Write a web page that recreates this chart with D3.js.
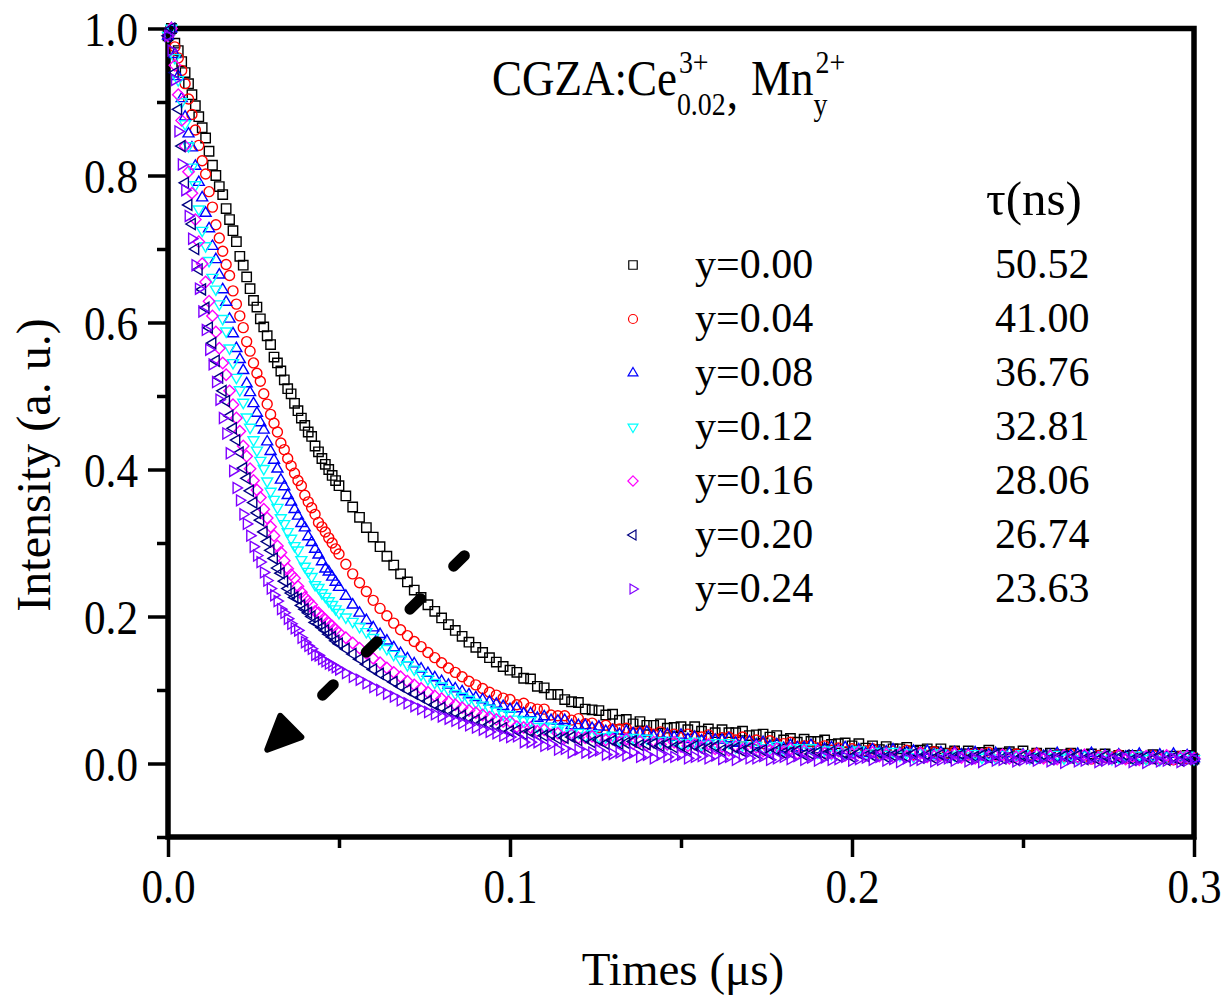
<!DOCTYPE html>
<html>
<head>
<meta charset="utf-8">
<title>CGZA decay curves</title>
<script src="https://cdn.jsdelivr.net/npm/d3@7/dist/d3.min.js"></script>
<style>
  body { margin: 0; background: #fff; }
  svg text { font-family: "Liberation Serif", Tinos, "Times New Roman", Times, "Nimbus Roman", "DejaVu Serif", serif; fill: #000; }
</style>
</head>
<body>
<svg width="1225" height="998" id="mainsvg"></svg>
<script>
// time axis (µs): 1 ns steps up to 50 ns, 2 ns steps after
const time = [
  0,0.001,0.002,0.003,0.004,0.005,0.006,0.007,0.008,0.009,
  0.010,0.011,0.012,0.013,0.014,0.015,0.016,0.017,0.018,0.019,
  0.020,0.021,0.022,0.023,0.024,0.025,0.026,0.027,0.028,0.029,
  0.030,0.031,0.032,0.033,0.034,0.035,0.036,0.037,0.038,0.039,
  0.040,0.041,0.042,0.043,0.044,0.045,0.046,0.047,0.048,0.049,
  0.050,
  0.052,0.054,0.056,0.058,0.060,0.062,0.064,0.066,0.068,0.070,
  0.072,0.074,0.076,0.078,0.080,0.082,0.084,0.086,0.088,0.090,
  0.092,0.094,0.096,0.098,0.100,0.102,0.104,0.106,0.108,0.110,
  0.112,0.114,0.116,0.118,0.120,0.122,0.124,0.126,0.128,0.130,
  0.132,0.134,0.136,0.138,0.140,0.142,0.144,0.146,0.148,0.150,
  0.152,0.154,0.156,0.158,0.160,0.162,0.164,0.166,0.168,0.170,
  0.172,0.174,0.176,0.178,0.180,0.182,0.184,0.186,0.188,0.190,
  0.192,0.194,0.196,0.198,0.200,0.202,0.204,0.206,0.208,0.210,
  0.212,0.214,0.216,0.218,0.220,0.222,0.224,0.226,0.228,0.230,
  0.232,0.234,0.236,0.238,0.240,0.242,0.244,0.246,0.248,0.250,
  0.252,0.254,0.256,0.258,0.260,0.262,0.264,0.266,0.268,0.270,
  0.272,0.274,0.276,0.278,0.280,0.282,0.284,0.286,0.288,0.290,
  0.292,0.294,0.296,0.298,0.300
];

const y000 = [
  0.99,1.00,0.98,0.97,0.955,0.94,0.925,0.91,0.895,0.88,
  0.865,0.851,0.833,0.814,0.80,0.785,0.774,0.755,0.74,0.725,
  0.71,0.69,0.678,0.662,0.646,0.63,0.621,0.605,0.594,0.582,
  0.57,0.553,0.545,0.534,0.522,0.51,0.503,0.49,0.48,0.47,
  0.46,0.451,0.445,0.432,0.424,0.415,0.407,0.40,0.392,0.385,
  0.378,
  0.364,0.349,0.335,0.321,0.308,0.295,0.282,0.270,0.258,0.247,
  0.236,0.226,0.216,0.207,0.198,0.189,0.181,0.173,0.165,0.158,
  0.151,0.144,0.138,0.132,
  0.127,0.124,0.116,0.115,0.105,0.103,0.094,0.094,0.087,0.084,
  0.083,0.074,0.073,0.072,0.066,0.067,0.059,0.060,0.054,0.057,
  0.052,0.052,0.054,0.048,0.049,0.050,0.046,0.050,0.044,0.047,
  0.042,0.046,0.042,0.042,0.044,0.038,0.039,0.040,0.036,0.038,
  0.032,0.034,0.029,0.033,0.030,0.030,0.032,0.026,0.027,0.028,
  0.024,0.027,0.021,0.024,0.019,0.023,0.020,0.020,0.022,0.017,
  0.018,0.020,0.016,0.020,0.014,0.017,0.013,0.017,0.014,0.015,
  0.018,0.012,0.014,0.016,0.013,0.017,0.011,0.014,0.010,0.014,
  0.011,0.012,0.014,0.009,0.011,0.013,0.009,0.013,0.008,0.011,
  0.007,0.011,0.008,0.009,0.012,0.007,0.009,0.010,0.007,0.011,
  0.006
];

const y004 = [
  0.99,1.00,0.975,0.96,0.943,0.925,0.904,0.883,0.862,0.841,
  0.82,0.802,0.778,0.757,0.733,0.715,0.697,0.679,0.664,0.643,
  0.625,0.609,0.593,0.574,0.561,0.545,0.531,0.52,0.503,0.489,
  0.475,0.463,0.451,0.436,0.427,0.415,0.405,0.395,0.385,0.378,
  0.365,0.356,0.348,0.339,0.328,0.322,0.315,0.307,0.300,0.292,
  0.285,
  0.271,0.258,0.246,0.234,0.222,0.211,0.201,0.191,0.182,0.174,
  0.166,0.159,0.151,0.144,0.137,0.130,0.124,0.118,0.112,0.107,
  0.102,0.097,0.093,0.089,
  0.087,0.080,0.082,0.076,0.074,0.074,0.066,0.065,0.065,0.059,
  0.061,0.054,0.055,0.049,0.052,0.047,0.047,0.048,0.042,0.043,
  0.044,0.040,0.043,0.038,0.040,0.035,0.040,0.036,0.036,0.039,
  0.033,0.035,0.036,0.032,0.036,0.030,0.032,0.027,0.031,0.027,
  0.027,0.029,0.023,0.024,0.025,0.021,0.024,0.018,0.021,0.016,
  0.020,0.017,0.017,0.020,0.014,0.016,0.017,0.014,0.018,0.012,
  0.015,0.011,0.016,0.012,0.013,0.016,0.011,0.013,0.014,0.011,
  0.015,0.010,0.012,0.008,0.013,0.010,0.011,0.014,0.008,0.010,
  0.012,0.009,0.013,0.008,0.010,0.006,0.011,0.008,0.009,0.012,
  0.007,0.009,0.011,0.007,0.011,0.006,0.009,0.005,0.010,0.007,
  0.008
];

const y008 = [
  0.99,1.00,0.965,0.935,0.905,0.88,0.857,0.838,0.813,0.791,
  0.77,0.749,0.728,0.704,0.686,0.665,0.645,0.628,0.605,0.585,
  0.565,0.55,0.535,0.517,0.505,0.49,0.477,0.464,0.454,0.438,
  0.425,0.413,0.401,0.386,0.377,0.365,0.356,0.346,0.337,0.327,
  0.321,0.309,0.301,0.292,0.284,0.275,0.265,0.261,0.254,0.247,
  0.240,
  0.228,0.216,0.205,0.195,0.185,0.176,0.167,0.158,0.150,0.143,
  0.136,0.129,0.123,0.117,0.112,0.107,0.102,0.098,0.094,0.090,
  0.087,0.084,0.081,0.078,
  0.074,0.075,0.068,0.068,0.062,0.064,0.059,0.058,0.059,0.052,
  0.052,0.052,0.048,0.050,0.044,0.045,0.040,0.044,0.041,0.041,
  0.043,0.037,0.038,0.040,0.036,0.039,0.033,0.036,0.031,0.036,
  0.032,0.032,0.034,0.028,0.029,0.030,0.026,0.029,0.024,0.026,
  0.021,0.025,0.022,0.022,0.025,0.019,0.020,0.022,0.018,0.022,
  0.016,0.019,0.014,0.019,0.016,0.016,0.019,0.014,0.015,0.017,
  0.014,0.017,0.012,0.015,0.010,0.015,0.012,0.013,0.015,0.010,
  0.012,0.014,0.011,0.014,0.009,0.012,0.008,0.013,0.010,0.011,
  0.014,0.009,0.011,0.013,0.010,0.014,0.008,0.011,0.007,0.012,
  0.009,0.010,0.013,0.008,0.010,0.012,0.009,0.013,0.008,0.011,
  0.007
];

const y012 = [
  0.99,1.00,0.96,0.93,0.90,0.87,0.84,0.811,0.787,0.754,
  0.725,0.704,0.684,0.661,0.645,0.625,0.605,0.588,0.565,0.545,
  0.525,0.508,0.491,0.471,0.457,0.44,0.426,0.412,0.401,0.384,
  0.37,0.359,0.348,0.334,0.326,0.315,0.306,0.296,0.29,0.277,
  0.268,0.261,0.254,0.243,0.239,0.232,0.227,0.221,0.216,0.21,
  0.205,
  0.199,0.193,0.186,0.179,0.171,0.163,0.156,0.148,0.141,0.134,
  0.128,0.121,0.115,0.110,0.105,0.100,0.095,0.091,0.087,0.083,
  0.079,0.075,0.071,0.067,
  0.066,0.060,0.058,0.058,0.050,0.050,0.050,0.045,0.047,0.040,
  0.042,0.037,0.040,0.036,0.036,0.038,0.032,0.033,0.035,0.031,
  0.034,0.029,0.031,0.026,0.031,0.027,0.028,0.030,0.025,0.026,
  0.028,0.024,0.028,0.022,0.025,0.020,0.024,0.021,0.021,0.024,
  0.018,0.019,0.021,0.017,0.021,0.015,0.018,0.013,0.018,0.014,
  0.015,0.018,0.012,0.014,0.016,0.012,0.016,0.011,0.014,0.009,
  0.014,0.011,0.012,0.014,0.009,0.011,0.013,0.010,0.013,0.008,
  0.011,0.007,0.012,0.009,0.010,0.013,0.007,0.009,0.011,0.008,
  0.012,0.007,0.010,0.006,0.011,0.008,0.008,0.011,0.006,0.008,
  0.010,0.007,0.011,0.006,0.009,0.005,0.010,0.007,0.008,0.011,
  0.006
];

const y016 = [
  0.99,1.00,0.95,0.91,0.875,0.84,0.805,0.776,0.74,0.71,
  0.68,0.655,0.629,0.609,0.587,0.565,0.545,0.529,0.507,0.488,
  0.47,0.452,0.432,0.418,0.401,0.385,0.372,0.362,0.346,0.334,
  0.322,0.31,0.296,0.287,0.276,0.265,0.257,0.252,0.241,0.233,
  0.226,0.221,0.216,0.207,0.205,0.20,0.196,0.191,0.187,0.182,
  0.178,
  0.171,0.164,0.157,0.150,0.143,0.137,0.130,0.124,0.118,0.112,
  0.107,0.102,0.097,0.092,0.088,0.084,0.080,0.076,0.072,0.069,
  0.066,0.063,0.060,0.057,
  0.057,0.050,0.049,0.049,0.044,0.046,0.039,0.041,0.035,0.039,
  0.035,0.035,0.037,0.031,0.032,0.033,0.029,0.033,0.027,0.030,
  0.025,0.029,0.026,0.026,0.029,0.023,0.024,0.026,0.022,0.026,
  0.020,0.023,0.018,0.023,0.019,0.020,0.022,0.017,0.018,0.020,
  0.016,0.020,0.014,0.017,0.012,0.017,0.014,0.014,0.017,0.011,
  0.013,0.015,0.011,0.015,0.010,0.013,0.009,0.013,0.010,0.011,
  0.014,0.009,0.010,0.012,0.009,0.013,0.008,0.011,0.007,0.012,
  0.009,0.010,0.012,0.007,0.009,0.011,0.008,0.012,0.007,0.010,
  0.006,0.011,0.008,0.009,0.012,0.007,0.008,0.010,0.007,0.011,
  0.006,0.009,0.005,0.010,0.007,0.008,0.011,0.006,0.008,0.010,
  0.007
];

const y020 = [
  0.99,1.00,0.94,0.89,0.84,0.79,0.76,0.734,0.70,0.672,
  0.645,0.62,0.593,0.572,0.548,0.525,0.507,0.493,0.473,0.456,
  0.44,0.423,0.402,0.388,0.371,0.355,0.341,0.331,0.315,0.302,
  0.29,0.279,0.266,0.259,0.248,0.238,0.232,0.226,0.224,0.215,
  0.21,0.205,0.20,0.192,0.19,0.185,0.181,0.176,0.172,0.167,
  0.163,
  0.156,0.149,0.142,0.135,0.128,0.122,0.117,0.111,0.105,0.100,
  0.095,0.090,0.085,0.080,0.076,0.072,0.069,0.065,0.062,0.059,
  0.056,0.053,0.051,0.048,
  0.044,0.045,0.040,0.043,0.039,0.038,0.040,0.034,0.035,0.036,
  0.032,0.035,0.029,0.032,0.027,0.031,0.027,0.028,0.030,0.025,
  0.026,0.027,0.024,0.027,0.022,0.024,0.019,0.024,0.020,0.021,
  0.023,0.018,0.019,0.021,0.017,0.021,0.015,0.018,0.013,0.018,
  0.014,0.015,0.017,0.012,0.013,0.015,0.012,0.016,0.010,0.013,
  0.009,0.014,0.010,0.011,0.014,0.009,0.011,0.012,0.009,0.013,
  0.008,0.011,0.007,0.012,0.008,0.009,0.012,0.007,0.009,0.011,
  0.008,0.012,0.007,0.009,0.005,0.010,0.007,0.008,0.011,0.006,
  0.008,0.010,0.007,0.011,0.006,0.009,0.005,0.010,0.007,0.008,
  0.011,0.005,0.007,0.009,0.006,0.010,0.005,0.008,0.004,0.009,
  0.006
];

const y024 = [
  0.99,0.97,0.93,0.86,0.815,0.78,0.745,0.714,0.678,0.646,
  0.615,0.59,0.563,0.543,0.519,0.495,0.47,0.449,0.422,0.398,
  0.375,0.358,0.339,0.326,0.31,0.295,0.283,0.274,0.26,0.249,
  0.238,0.229,0.221,0.21,0.205,0.197,0.19,0.184,0.181,0.171,
  0.165,0.16,0.156,0.148,0.147,0.142,0.139,0.136,0.134,0.131,
  0.128,
  0.123,0.118,0.114,0.109,0.104,0.100,0.095,0.091,0.086,0.082,
  0.078,0.074,0.070,0.067,0.064,0.061,0.058,0.055,0.052,0.049,
  0.046,0.043,0.041,0.038,
  0.036,0.037,0.029,0.029,0.029,0.024,0.026,0.019,0.020,0.015,
  0.019,0.015,0.015,0.018,0.012,0.013,0.015,0.011,0.015,0.009,
  0.012,0.007,0.012,0.009,0.009,0.012,0.007,0.009,0.010,0.007,
  0.011,0.006,0.009,0.005,0.010,0.007,0.007,0.010,0.005,0.007,
  0.009,0.006,0.010,0.005,0.008,0.004,0.008,0.005,0.006,0.009,
  0.004,0.006,0.008,0.005,0.009,0.004,0.006,0.002,0.007,0.004,
  0.005,0.008,0.003,0.005,0.007,0.004,0.008,0.003,0.006,0.002,
  0.007,0.004,0.005,0.008,0.003,0.005,0.007,0.004,0.008,0.003,
  0.006,0.001,0.006,0.003,0.004,0.007,0.002,0.004,0.006,0.003,
  0.007,0.002,0.005,0.001,0.006,0.003,0.004,0.007,0.002,0.004,
  0.006
];

const seriesValues = [y000, y004, y008, y012, y016, y020, y024];
const seriesLabels = ['y=0.00', 'y=0.04', 'y=0.08', 'y=0.12', 'y=0.16', 'y=0.20', 'y=0.24'];
const lifetimes = ['50.52', '41.00', '36.76', '32.81', '28.06', '26.74', '23.63'];
const xTicks = [0, 0.1, 0.2, 0.3];
const xMinorTicks = [0.05, 0.15, 0.25];
const yTicks = [0, 0.2, 0.4, 0.6, 0.8, 1.0];
const yMinorTicks = [-0.1, 0.1, 0.3, 0.5, 0.7, 0.9];

// styling
const colors = ['#000000', '#ff0000', '#0000ff', '#00ffff', '#ff00ff', '#000080', '#8000ff'];
const shapes = ['square', 'circle', 'up', 'down', 'diamond', 'left', 'right'];
const shapeSize = {square: 4.7, circle: 5, up: 5.5, down: 5.5, diamond: 4.4, left: 5.5, right: 5.5};

function markerPath(shape, r) {
  switch (shape) {
    case 'square': return `M${-r},${-r}H${r}V${r}H${-r}Z`;
    case 'circle': return `M${r},0A${r},${r} 0 1,1 ${-r},0A${r},${r} 0 1,1 ${r},0Z`;
    case 'up': return `M0,${-1.1 * r}L${r},${0.6 * r}L${-r},${0.6 * r}Z`;
    case 'down': return `M0,${1.1 * r}L${r},${-0.6 * r}L${-r},${-0.6 * r}Z`;
    case 'diamond': return `M0,${-1.3 * r}L${1.3 * r},0L0,${1.3 * r}L${-1.3 * r},0Z`;
    case 'left': return `M${-1.1 * r},0L${0.6 * r},${-r}L${0.6 * r},${r}Z`;
    case 'right': return `M${1.1 * r},0L${-0.6 * r},${-r}L${-0.6 * r},${r}Z`;
  }
}

const svg = d3.select('#mainsvg');
const x = d3.scaleLinear().domain([0, 0.3]).range([168, 1194]);
const y = d3.scaleLinear().domain([-0.1, 1.0]).range([837, 28.5]);
const squeeze = 0.9;

// axes
function styleAxis(sel) {
  sel.select('.domain').remove();
  sel.selectAll('.tick line').attr('stroke', '#000').attr('stroke-width', 3.5);
  sel.attr('font-family', null);
}

const xAxisG = svg.append('g').attr('transform', 'translate(0,837)')
  .call(d3.axisBottom(x).tickValues(xTicks).tickSize(20).tickFormat(d3.format('.1f')));
styleAxis(xAxisG);
xAxisG.selectAll('.tick text')
  .attr('y', 0).attr('dy', 0).attr('font-size', 48).attr('fill', '#000')
  .attr('transform', `translate(0,66) scale(${squeeze},1)`);

const xMinorG = svg.append('g').attr('transform', 'translate(0,837)')
  .call(d3.axisBottom(x).tickValues(xMinorTicks).tickSize(11).tickFormat(''));
styleAxis(xMinorG);

const yAxisG = svg.append('g').attr('transform', 'translate(168,0)')
  .call(d3.axisLeft(y).tickValues(yTicks).tickSize(20).tickFormat(d3.format('.1f')));
styleAxis(yAxisG);
yAxisG.selectAll('.tick text')
  .attr('x', 0).attr('dy', 0).attr('font-size', 48).attr('fill', '#000')
  .attr('transform', `translate(-30,17) scale(${squeeze},1)`);

const yMinorG = svg.append('g').attr('transform', 'translate(168,0)')
  .call(d3.axisLeft(y).tickValues(yMinorTicks).tickSize(11).tickFormat(''));
styleAxis(yMinorG);

// frame
svg.append('rect')
  .attr('x', x(0)).attr('y', y(1.0))
  .attr('width', x(0.3) - x(0)).attr('height', y(-0.1) - y(1.0))
  .attr('fill', 'none').attr('stroke', '#000').attr('stroke-width', 5.5);

// axis titles
svg.append('text').text('Times (μs)')
  .attr('x', 683).attr('y', 985).attr('text-anchor', 'middle').attr('font-size', 47);
svg.append('text').text('Intensity (a. u.)')
  .attr('transform', 'translate(50,465) rotate(-90)')
  .attr('text-anchor', 'middle').attr('font-size', 48);

// data
const plot = svg.append('g');
seriesValues.forEach((vals, i) => {
  const pts = time.map((t, k) => [t, vals[k]]);
  plot.append('g').selectAll('path').data(pts).join('path')
    .attr('d', markerPath(shapes[i], shapeSize[shapes[i]]))
    .attr('transform', d => `translate(${x(d[0])},${y(d[1])})`)
    .attr('fill', 'none').attr('stroke', colors[i]).attr('stroke-width', 1.4);
});

// arrow annotation (data units)
const arrowFrom = [0.0878, 0.288];
const arrowTo = [0.0284, 0.016];
{
  const x0 = x(arrowFrom[0]), y0 = y(arrowFrom[1]);
  const x1 = x(arrowTo[0]), y1 = y(arrowTo[1]);
  const len = Math.hypot(x1 - x0, y1 - y0);
  const ux = (x1 - x0) / len, uy = (y1 - y0) / len;
  const px = -uy, py = ux;
  svg.append('line')
    .attr('x1', x0 + ux * 5.5).attr('y1', y0 + uy * 5.5)
    .attr('x2', x0 + ux * (len - 44)).attr('y2', y0 + uy * (len - 44))
    .attr('stroke', '#000').attr('stroke-width', 11)
    .attr('stroke-linecap', 'round').attr('stroke-dasharray', '15 46.3');
  const bx = x1 - ux * 36, by = y1 - uy * 36;
  svg.append('path')
    .attr('d', `M${x1 - ux * 3},${y1 - uy * 3}L${bx + px * 15},${by + py * 15}L${bx - px * 15},${by - py * 15}Z`)
    .attr('fill', '#000').attr('stroke', '#000').attr('stroke-width', 6).attr('stroke-linejoin', 'round');
}

// title with super/subscripts
function piece(str, px, py, size) {
  const t = svg.append('text').text(str).attr('font-size', size)
    .attr('transform', `translate(${px},${py}) scale(${squeeze},1)`);
  return t.node().getComputedTextLength() * squeeze;
}
{
  let cx = 492;
  cx += piece('CGZA:Ce', cx, 95, 50);
  const w1 = piece('3+', cx + 2, 73, 31);
  const w2 = piece('0.02', cx, 115, 31);
  cx += Math.max(w1, w2);
  cx += piece(',', cx + 1, 108, 50) + 14;
  cx += piece('Mn', cx, 95, 50);
  piece('2+', cx + 2, 73, 31);
  piece('y', cx, 115, 31);
}

// legend
svg.append('text').text('τ(ns)').attr('x', 986).attr('y', 215).attr('font-size', 49);
seriesLabels.forEach((lab, i) => {
  const base = 278 + i * 54;
  svg.append('path')
    .attr('d', markerPath(shapes[i], shapeSize[shapes[i]] * 0.9))
    .attr('transform', `translate(633,${base - 13})`)
    .attr('fill', 'none').attr('stroke', colors[i]).attr('stroke-width', 1.2);
  svg.append('text').text(lab).attr('x', 695).attr('y', base).attr('font-size', 42);
  svg.append('text').text(lifetimes[i]).attr('x', 995).attr('y', base).attr('font-size', 42);
});
</script>
</body>
</html>
